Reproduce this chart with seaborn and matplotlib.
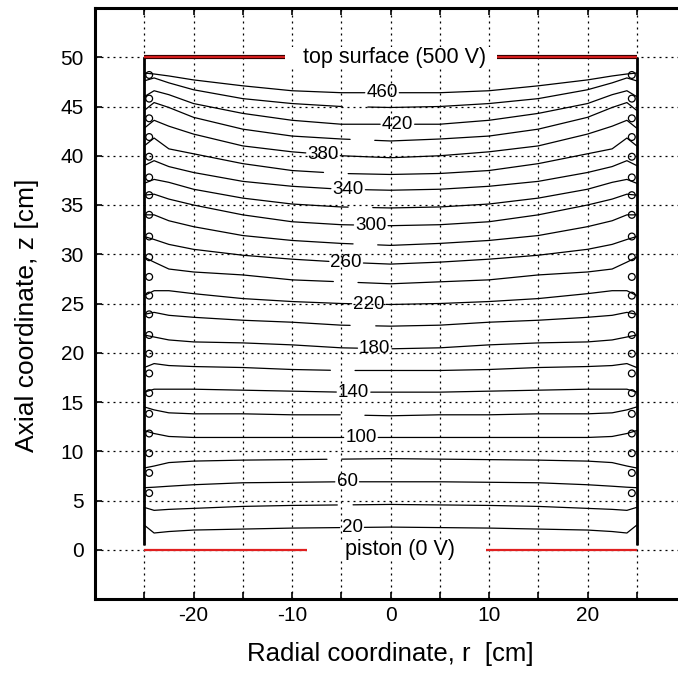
import numpy as np
import pandas as pd
import matplotlib
matplotlib.use("Agg")
import matplotlib.pyplot as plt
from matplotlib.patches import Rectangle
import seaborn as sns

# Equipotential levels (V), bottom to top
levels = [20, 40, 60, 80, 100, 120, 140, 160, 180, 200, 220, 240,
          260, 280, 300, 320, 340, 360, 380, 400, 420, 440, 460]

# Radial stations (cm); profiles are symmetric about the axis r = 0
r_stations = [0, 5, 10, 15, 20, 22.5, 24, 25]

# Height z (cm) of each equipotential at every radial station
z_r0 = [2.3, 4.6, 6.9, 9.25, 11.4, 13.6, 16.0, 18.2, 20.4, 22.7, 24.9, 27.0,
        29.0, 30.9, 32.9, 34.7, 36.5, 38.1, 39.8, 41.5, 43.2, 44.9, 46.4]
z_r5 = [2.25, 4.55, 6.9, 9.2, 11.4, 13.7, 16.0, 18.2, 20.5, 22.8, 25.0, 27.2,
        29.2, 31.1, 33.0, 34.8, 36.6, 38.2, 40.0, 41.7, 43.2, 45.0, 46.4]
z_r10 = [2.2, 4.5, 6.85, 9.15, 11.4, 13.7, 16.1, 18.3, 20.8, 23.1, 25.2, 27.4,
         29.5, 31.4, 33.3, 35.1, 36.9, 38.5, 40.4, 42.0, 43.6, 45.3, 46.6]
z_r15 = [2.1, 4.4, 6.8, 9.1, 11.4, 13.8, 16.2, 18.5, 21.0, 23.3, 25.5, 27.9,
         29.9, 31.9, 34.0, 35.7, 37.4, 39.2, 41.0, 42.7, 44.3, 45.8, 47.1]
z_r20 = [2.0, 4.2, 6.6, 9.0, 11.4, 13.8, 16.3, 18.6, 21.1, 23.6, 26.0, 28.2,
         30.5, 32.8, 35.0, 36.6, 38.3, 40.2, 42.2, 43.9, 45.3, 46.7, 47.7]
z_r22 = [1.85, 4.1, 6.45, 8.85, 11.5, 13.9, 16.3, 18.7, 21.3, 23.8, 26.3, 28.5,
         31.0, 33.4, 35.6, 37.3, 38.9, 40.7, 43.0, 44.9, 46.2, 47.4, 48.1]
z_r24 = [1.7, 4.0, 6.35, 8.5, 11.8, 14.2, 16.3, 18.9, 21.6, 24.1, 26.3, 29.2,
         31.5, 34.0, 36.1, 37.6, 39.5, 41.8, 43.6, 45.4, 46.6, 47.9, 48.3]
z_r25 = [2.5, 4.3, 6.3, 8.3, 12.1, 14.5, 16.0, 18.5, 21.8, 23.9, 25.8, 29.7,
         31.8, 34.0, 36.0, 37.2, 39.0, 41.0, 42.8, 44.6, 46.0, 47.6, 48.4]

# Where each line is broken (centre r and half-width, cm); labelled lines carry their value there
gap_center = [-3.9, -4.6, -4.4, -5.7, -3.0, -3.85, -3.75, -4.85, -1.6, -2.8, -2.2, -4.55,
              -4.5, -2.55, -2.0, -3.05, -4.3, -5.55, -6.85, -2.85, 0.7, -3.6, -0.86]
gap_half = [1.25, 0.8, 1.25, 0.75, 1.75, 1.25, 1.75, 1.25, 1.75, 1.3, 1.75, 1.25,
            1.75, 1.25, 1.75, 1.25, 1.75, 1.25, 1.75, 1.25, 1.75, 1.3, 1.75]
labelled = [20, 60, 100, 140, 180, 220, 260, 300, 340, 380, 420, 460]

# Ring electrodes along the side wall (z, cm)
ring_z = [48.2, 45.8, 43.8, 41.9, 39.9, 37.8, 36.0, 34.0, 31.8, 29.7, 27.7,
          25.8, 23.9, 21.8, 19.9, 17.9, 15.9, 13.8, 11.8, 9.8, 7.8, 5.75]

# Geometry of the cell (cm)
wall_r = 25.0
top_z = 50.0
piston_z = 0.0
top_segments = [(-25.0, -10.7), (10.8, 25.0)]
piston_segments = [(-25.0, -8.5), (9.7, 25.0)]

# ---------------------------------------------------------------------------
profile = np.array([z_r0, z_r5, z_r10, z_r15, z_r20, z_r22, z_r24, z_r25]).T
r_half = np.array(r_stations)
r_full = np.concatenate([-r_half[::-1], r_half[1:]])

rows = []
for i, lvl in enumerate(levels):
    zh = profile[i]
    z_full = np.concatenate([zh[::-1], zh[1:]])
    lo = gap_center[i] - gap_half[i]
    hi = gap_center[i] + gap_half[i]
    z_lo = np.interp(lo, r_full, z_full)
    z_hi = np.interp(hi, r_full, z_full)
    left = [(r, z) for r, z in zip(r_full, z_full) if r < lo] + [(lo, z_lo)]
    right = [(hi, z_hi)] + [(r, z) for r, z in zip(r_full, z_full) if r > hi]
    for k, seg in enumerate((left, right)):
        for r, z in seg:
            rows.append({"r": r, "z": z, "level": lvl, "seg": f"{lvl}-{k}"})
lines = pd.DataFrame(rows)

sns.set_style("ticks")
plt.rcParams["font.family"] = ["Liberation Sans", "DejaVu Sans"]
plt.rcParams.update({"text.color": "black", "axes.labelcolor": "black",
                     "xtick.color": "black", "ytick.color": "black"})

fig = plt.figure(figsize=(6.78, 6.79), dpi=100)
ax = fig.add_axes([95 / 678, 80 / 679, 591 / 678, 591 / 679])

# dotted grid
grid_style = dict(color="black", linestyle=(0, (1.6, 3.2)), linewidth=0.9)
for x in np.arange(-25, 26, 5):
    ax.axvline(x, zorder=0, **grid_style)
for y in np.arange(0, 51, 5):
    ax.axhline(y, zorder=0, **grid_style)

# blank strips behind the electrode captions
ax.add_patch(Rectangle((top_segments[0][1], top_z - 1.0),
                       top_segments[1][0] - top_segments[0][1], 2.0,
                       facecolor="white", edgecolor="none", zorder=1))
ax.add_patch(Rectangle((piston_segments[0][1], piston_z - 1.0),
                       piston_segments[1][0] - piston_segments[0][1], 2.0,
                       facecolor="white", edgecolor="none", zorder=1))

# equipotential lines
sns.lineplot(data=lines, x="r", y="z", units="seg", estimator=None, sort=False,
             color="black", linewidth=0.9, ax=ax, zorder=3)

# contour values
for i, lvl in enumerate(levels):
    if lvl in labelled:
        zh = profile[i]
        z_full = np.concatenate([zh[::-1], zh[1:]])
        zc = np.interp(gap_center[i], r_full, z_full)
        ax.text(gap_center[i], zc, str(lvl), ha="center", va="center",
                fontsize=13.5, zorder=5)

# side walls with ring electrodes
for side in (-1, 1):
    ax.plot([side * wall_r, side * wall_r], [piston_z + 0.5, top_z],
            color="black", linewidth=2.0, zorder=4, solid_capstyle="butt")
    sns.scatterplot(x=[side * (wall_r - 0.5)] * len(ring_z), y=ring_z, marker="o",
                    s=24, facecolor="none", edgecolor="black", linewidth=0.9,
                    ax=ax, zorder=4, legend=False)

# electrodes: top surface and piston
for a, b in top_segments:
    ax.plot([a, b], [top_z, top_z], color="#3a0000", linewidth=3.0, zorder=6,
            solid_capstyle="butt")
    ax.plot([a, b], [top_z, top_z], color="#d81e1e", linewidth=1.4, zorder=7,
            solid_capstyle="butt")
for a, b in piston_segments:
    ax.plot([a, b], [piston_z, piston_z], color="#e02020", linewidth=1.6, zorder=6,
            solid_capstyle="butt")
ax.text(0.45, top_z, "top surface (500 V)", ha="center", va="center",
        fontsize=15.5, zorder=8)
ax.text(1.0, piston_z, "piston (0 V)", ha="center", va="center",
        fontsize=15.5, zorder=8)

ax.set_xlim(-30, 30)
ax.set_ylim(-5, 55)
ax.set_xticks([-20, -10, 0, 10, 20])
ax.set_xticklabels(["-20", "-10", "0", "10", "20"])
ax.set_xticks([-25, -15, -5, 5, 15, 25], minor=True)
ax.set_yticks(np.arange(0, 51, 5))
ax.tick_params(which="both", direction="in", top=True, right=True,
               length=5, width=1.2, colors="black")
ax.tick_params(axis="x", which="major", labelsize=15, pad=5)
ax.tick_params(axis="y", which="major", labelsize=15, pad=8)
for s in ax.spines.values():
    s.set_linewidth(2.2)
    s.set_color("black")

ax.set_xlabel("Radial coordinate, r  [cm]", fontsize=18.5, labelpad=12)
ax.set_ylabel("Axial coordinate, z [cm]", fontsize=19)
ax.yaxis.set_label_coords(-0.095, 0.48)

fig.savefig("out.png", dpi=100)
